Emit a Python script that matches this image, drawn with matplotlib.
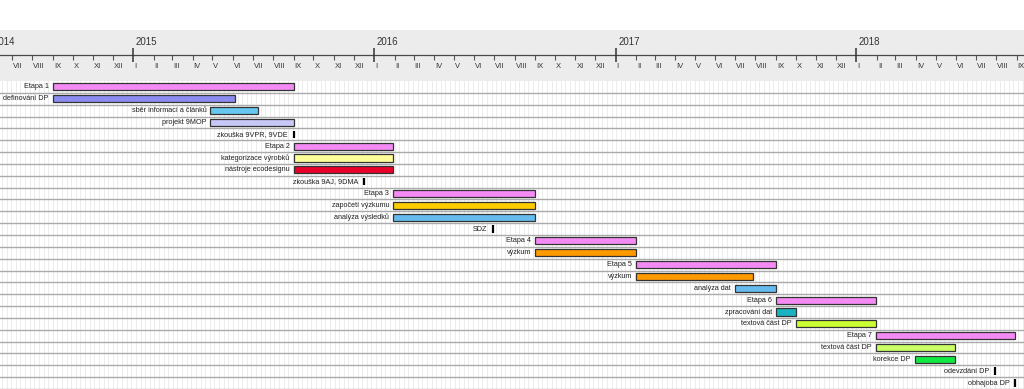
import datetime as dt

import matplotlib.pyplot as plt
import matplotlib.dates as mdates

#---------------------------
# DATA
#---------------------------
TASKS = [
    "Etapa 1", "definování DP", "sběr informací a článků", "projekt 9MOP",
    "zkouška 9VPR, 9VDE", "Etapa 2", "kategorizace výrobků", "nástroje ecodesignu",
    "zkouška 9AJ, 9DMA", "Etapa 3", "započetí výzkumu", "analýza výsledků",
    "SDZ", "Etapa 4", "výzkum", "Etapa 5", "výzkum", "analýza dat",
    "Etapa 6", "zpracování dat", "textová část DP", "Etapa 7",
    "textová část DP", "korekce DP", "odevzdání DP", "obhajoba DP",
]
STARTS = [
    "2014-09-01", "2014-09-01", "2015-04-28", "2015-04-28",
    "2015-09-01", "2015-09-01", "2015-09-01", "2015-09-01",
    "2015-12-17", "2016-01-30", "2016-01-30", "2016-01-30",
    "2016-06-29", "2016-09-01", "2016-09-01", "2017-02-01", "2017-02-01", "2017-07-01",
    "2017-09-01", "2017-09-01", "2017-10-01", "2018-01-30",
    "2018-01-30", "2018-03-31", "2018-07-30", "2018-08-30",
]
# None = milestone
ENDS = [
    "2015-09-01", "2015-06-04", "2015-07-09", "2015-09-01",
    None, "2016-01-30", "2016-01-30", "2016-01-30",
    None, "2016-09-01", "2016-09-01", "2016-09-01",
    None, "2017-02-01", "2017-02-01", "2017-09-01", "2017-07-29", "2017-09-01",
    "2018-01-30", "2017-10-01", "2018-01-30", "2018-08-30",
    "2018-05-30", "2018-05-30", None, None,
]
COLORS = [
    "#f48af4", "#8c8cf0", "#66c8f0", "#c8c8f8",
    "black", "#f48af4", "#ffff99", "#e8002a",
    "black", "#f48af4", "#ffcc00", "#66bbee",
    "black", "#f48af4", "#ff9900", "#f48af4", "#ff9900", "#66bbee",
    "#f48af4", "#19b4c0", "#ccff33", "#f48af4",
    "#ccff66", "#11e844", "black", "black",
]
ROMAN = ["I", "II", "III", "IV", "V", "VI", "VII", "VIII", "IX", "X", "XI", "XII"]
VIEW = ("2014-06-13", "2018-09-12")

plt.rcParams['font.family'] = ['Liberation Sans', 'DejaVu Sans']


def to_dt(s):
    return dt.datetime.strptime(s, "%Y-%m-%d")


def d(s):
    return mdates.date2num(to_dt(s))


W, H = 1024, 389
fig = plt.figure(figsize=(W / 100, H / 100), dpi=100)
fig.patch.set_facecolor("white")

# header (timeline) and chart area
ax_h = fig.add_axes([0, (H - 81) / H, 1, 51 / H])
ax = fig.add_axes([0, 0, 1, 308 / H], sharex=ax_h)

x0, x1 = d(VIEW[0]), d(VIEW[1])
ax.set_xlim(x0, x1)

# header
ax_h.set_facecolor("#ececec")
ax_h.set_ylim(0, 51)
ax_h.axhline(26, color="#4a4a4a", lw=0.9)
months = mdates.MonthLocator().tick_values(to_dt(VIEW[0]), to_dt(VIEW[1]))
for m in months:
    md = mdates.num2date(m)
    if md.month == 1:
        ax_h.vlines(m, 19, 33, color="#333333", lw=1.1)
        ax_h.text(m + 4, 39, str(md.year), ha="left", va="center", fontsize=7, color="#333333")
    else:
        ax_h.vlines(m, 21, 26, color="#555555", lw=0.8)
    ax_h.text(m + 1.5, 14.5, ROMAN[md.month - 1], ha="left", va="center", fontsize=5.5, color="#333333", clip_on=True)
# previous year label, partly cut by the left edge (as in the original view)
ax_h.text(x0 - 9, 39, str(to_dt(VIEW[0]).year), ha="left", va="center", fontsize=7, color="#333333", clip_on=True)

# chart area
n = len(TASKS)
ax.set_ylim(n, 0)
for w in mdates.WeekdayLocator(byweekday=mdates.MO).tick_values(to_dt(VIEW[0]), to_dt(VIEW[1])):
    ax.axvline(w, color="#e9e9e9", lw=0.6, zorder=0)
for i in range(1, n + 1):
    ax.axhline(i, color="#aaaaaa", lw=1.0, zorder=1)

for i, (name, s, e, c) in enumerate(zip(TASKS, STARTS, ENDS, COLORS)):
    y = i + 0.5
    if e is None:
        ax.vlines(d(s), y - 0.32, y + 0.32, color="black", lw=1.6, zorder=3)
        off = -4
    else:
        ax.barh(y, d(e) - d(s), left=d(s), height=0.6, color=c,
                edgecolor="#333333", lw=0.9, zorder=3)
        off = -3
    ax.annotate(name, (d(s), y), xytext=(off, 0), textcoords="offset points",
                ha="right", va="center", fontsize=5.2, color="#222222", zorder=4)

for a in (ax, ax_h):
    for sp in a.spines.values():
        sp.set_visible(False)
    a.set_xticks([])
    a.set_yticks([])

fig.savefig("out.png", dpi=100)
